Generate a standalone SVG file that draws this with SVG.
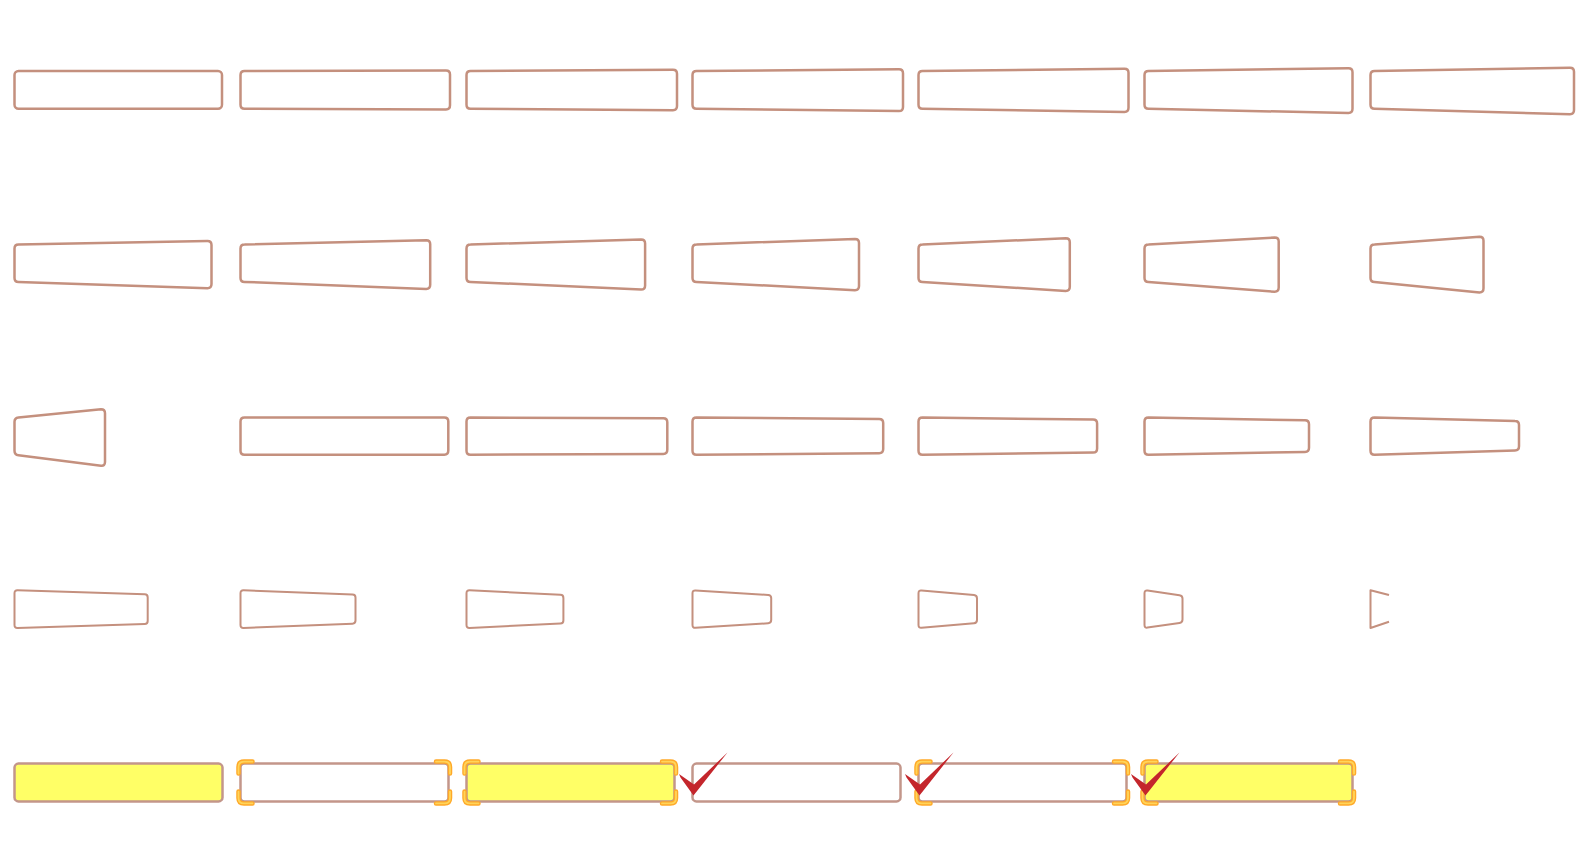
<svg xmlns="http://www.w3.org/2000/svg" xmlns:xlink="http://www.w3.org/1999/xlink" width="1582" height="865" viewBox="0 0 1582 865">
<style>
.fr{fill:#fff;stroke:#c4907e;stroke-width:2.5;stroke-linejoin:round}
#row4 .fr{stroke-width:2}
.op{fill:none;stroke:#c4907e;stroke-width:2;stroke-linejoin:round}
.b5{stroke:#c3968a;stroke-width:2.5}
.yl{fill:#ffff66}
.wh{fill:#fff}
.bo{fill:none;stroke:#ffa928;stroke-width:4.5;stroke-linecap:round}
.bi{fill:none;stroke:#ffd45a;stroke-width:1.8;stroke-linecap:round}
.ck{fill:#c4262c}
</style>
<defs>
<path id="brk" d="M-2,10 L-2,3.5 Q-2,-2 3.5,-2 L12,-2 M195.5,-2 L204,-2 Q209.5,-2 209.5,3.5 L209.5,10 M209.5,28 L209.5,34.3 Q209.5,39.8 204,39.8 L195.5,39.8 M12,39.8 L3.5,39.8 Q-2,39.8 -2,34.3 L-2,28"/>
<g id="sel"><use xlink:href="#brk" class="bo"/><use xlink:href="#brk" class="bi"/></g>
<polygon id="chk" points="-13.5,774 1.5,784.5 35,752.5 1,795.5 -12,777.5"/>
</defs>
<rect width="1582" height="865" fill="#fff"/>

<g id="row1">
<g id="r1c1"><rect class="fr" x="14.5" y="71" width="207.5" height="37.8" rx="4"/></g>
<g id="r1c2"><path class="fr" d="M244.5,71 L446,70.4 Q450,70.4 450,74.4 L450,105.2 Q450,109.4 446,109.4 L244.5,108.8 Q240.5,108.8 240.5,104.8 L240.5,75 Q240.5,71 244.5,71 Z"/></g>
<g id="r1c3"><path class="fr" d="M470.5,71 L673,69.8 Q677,69.8 677,73.8 L677,106 Q677,110.2 673,110.2 L470.5,108.8 Q466.5,108.8 466.5,104.8 L466.5,75 Q466.5,71 470.5,71 Z"/></g>
<g id="r1c4"><path class="fr" d="M696.5,71 L899,69.2 Q903,69.2 903,73.2 L903,106.9 Q903,111.1 899,111.1 L696.5,108.8 Q692.5,108.8 692.5,104.8 L692.5,75 Q692.5,71 696.5,71 Z"/></g>
<g id="r1c5"><path class="fr" d="M922.5,71 L1124.5,68.7 Q1128.5,68.7 1128.5,72.7 L1128.5,107.8 Q1128.5,112 1124.5,112 L922.5,108.8 Q918.5,108.8 918.5,104.8 L918.5,75 Q918.5,71 922.5,71 Z"/></g>
<g id="r1c6"><path class="fr" d="M1148.5,71 L1348.5,68.2 Q1352.5,68.2 1352.5,72.2 L1352.5,108.8 Q1352.5,113 1348.5,113 L1148.5,108.8 Q1144.5,108.8 1144.5,104.8 L1144.5,75 Q1144.5,71 1148.5,71 Z"/></g>
<g id="r1c7"><path class="fr" d="M1374.5,71 L1570,67.8 Q1574,67.8 1574,71.8 L1574,110 Q1574,114.2 1570,114.2 L1374.5,108.8 Q1370.5,108.8 1370.5,104.8 L1370.5,75 Q1370.5,71 1374.5,71 Z"/></g>
</g>

<g id="row2">
<g id="r2c1"><path class="fr" d="M18.5,244.5 L207.5,241 Q211.5,241 211.5,245 L211.5,284 Q211.5,288.2 207.5,288.2 L18.5,281.9 Q14.5,281.9 14.5,277.9 L14.5,248.5 Q14.5,244.5 18.5,244.5 Z"/></g>
<g id="r2c2"><path class="fr" d="M244.5,244.5 L426.2,240.3 Q430.2,240.3 430.2,244.3 L430.2,284.7 Q430.2,288.9 426.2,288.9 L244.5,281.9 Q240.5,281.9 240.5,277.9 L240.5,248.5 Q240.5,244.5 244.5,244.5 Z"/></g>
<g id="r2c3"><path class="fr" d="M470.5,244.5 L641.1,239.6 Q645.1,239.6 645.1,243.6 L645.1,285.4 Q645.1,289.6 641.1,289.6 L470.5,281.9 Q466.5,281.9 466.5,277.9 L466.5,248.5 Q466.5,244.5 470.5,244.5 Z"/></g>
<g id="r2c4"><path class="fr" d="M696.5,244.5 L855,238.9 Q859,238.9 859,242.9 L859,286.1 Q859,290.3 855,290.3 L696.5,281.9 Q692.5,281.9 692.5,277.9 L692.5,248.5 Q692.5,244.5 696.5,244.5 Z"/></g>
<g id="r2c5"><path class="fr" d="M922.5,244.5 L1065.8,238.2 Q1069.8,238.2 1069.8,242.2 L1069.8,286.8 Q1069.8,291 1065.8,291 L922.5,281.9 Q918.5,281.9 918.5,277.9 L918.5,248.5 Q918.5,244.5 922.5,244.5 Z"/></g>
<g id="r2c6"><path class="fr" d="M1148.5,244.5 L1274.7,237.5 Q1278.7,237.5 1278.7,241.5 L1278.7,287.6 Q1278.7,291.8 1274.7,291.8 L1148.5,281.9 Q1144.5,281.9 1144.5,277.9 L1144.5,248.5 Q1144.5,244.5 1148.5,244.5 Z"/></g>
<g id="r2c7"><path class="fr" d="M1374.5,244.5 L1479.5,236.7 Q1483.5,236.7 1483.5,240.7 L1483.5,288.3 Q1483.5,292.5 1479.5,292.5 L1374.5,281.9 Q1370.5,281.9 1370.5,277.9 L1370.5,248.5 Q1370.5,244.5 1374.5,244.5 Z"/></g>
</g>

<g id="row3">
<g id="r3c1"><path class="fr" d="M18.5,417.4 L101,409.3 Q105,409.3 105,413.3 L105,462 Q105,466.2 101,465.7 L18.5,455.3 Q14.5,454.8 14.5,450.8 L14.5,421.8 Q14.5,417.8 18.5,417.4 Z"/></g>
<g id="r3c2"><path class="fr" d="M244.5,417.6 L444.3,417.5 Q448.3,417.5 448.3,421.5 L448.3,450.5 Q448.3,454.7 444.3,454.7 L244.5,454.7 Q240.5,454.7 240.5,450.7 L240.5,421.6 Q240.5,417.6 244.5,417.6 Z"/></g>
<g id="r3c3"><path class="fr" d="M470.5,417.6 L663.3,418.2 Q667.3,418.2 667.3,422.2 L667.3,449.8 Q667.3,454 663.3,454 L470.5,454.7 Q466.5,454.7 466.5,450.7 L466.5,421.6 Q466.5,417.6 470.5,417.6 Z"/></g>
<g id="r3c4"><path class="fr" d="M696.5,417.6 L879.2,418.9 Q883.2,418.9 883.2,422.9 L883.2,449.1 Q883.2,453.3 879.2,453.3 L696.5,454.7 Q692.5,454.7 692.5,450.7 L692.5,421.6 Q692.5,417.6 696.5,417.6 Z"/></g>
<g id="r3c5"><path class="fr" d="M922.5,417.6 L1093.1,419.6 Q1097.1,419.6 1097.1,423.6 L1097.1,448.4 Q1097.1,452.6 1093.1,452.6 L922.5,454.7 Q918.5,454.7 918.5,450.7 L918.5,421.6 Q918.5,417.6 922.5,417.6 Z"/></g>
<g id="r3c6"><path class="fr" d="M1148.5,417.6 L1305,420.3 Q1309,420.3 1309,424.3 L1309,447.7 Q1309,451.9 1305,451.9 L1148.5,454.7 Q1144.5,454.7 1144.5,450.7 L1144.5,421.6 Q1144.5,417.6 1148.5,417.6 Z"/></g>
<g id="r3c7"><path class="fr" d="M1374.5,417.6 L1515,421 Q1519,421 1519,425 L1519,446.3 Q1519,450.5 1515,450.5 L1374.5,454.7 Q1370.5,454.7 1370.5,450.7 L1370.5,421.6 Q1370.5,417.6 1374.5,417.6 Z"/></g>
</g>

<g id="row4">
<g id="r4c1"><path class="fr" d="M17.5,590.3 L144.7,594.3 Q147.7,594.4 147.7,597.4 L147.7,620.9 Q147.7,623.9 144.7,624 L17.5,627.9 Q14.5,628 14.5,625 L14.5,593.2 Q14.5,590.2 17.5,590.3 Z"/></g>
<g id="r4c2"><path class="fr" d="M243.5,590.3 L352.5,594.5 Q355.5,594.6 355.5,597.6 L355.5,620.6 Q355.5,623.6 352.5,623.7 L243.5,627.9 Q240.5,628 240.5,625 L240.5,593.2 Q240.5,590.2 243.5,590.3 Z"/></g>
<g id="r4c3"><path class="fr" d="M469.5,590.3 L560.4,594.8 Q563.4,594.9 563.4,597.9 L563.4,620.4 Q563.4,623.4 560.4,623.5 L469.5,627.9 Q466.5,628 466.5,625 L466.5,593.2 Q466.5,590.2 469.5,590.3 Z"/></g>
<g id="r4c4"><path class="fr" d="M695.5,590.4 L768.2,594.9 Q771.2,595.1 771.2,598.1 L771.2,620.1 Q771.2,623.1 768.2,623.3 L695.5,627.8 Q692.5,628 692.5,625 L692.5,593.2 Q692.5,590.2 695.5,590.4 Z"/></g>
<g id="r4c5"><path class="fr" d="M921.5,590.5 L974,595.1 Q977,595.4 977,598.4 L977,619.9 Q977,622.9 974,623.2 L921.5,627.7 Q918.5,628 918.5,625 L918.5,593.2 Q918.5,590.2 921.5,590.5 Z"/></g>
<g id="r4c6"><path class="fr" d="M1147.5,590.6 L1179.5,595.2 Q1182.5,595.6 1182.5,598.6 L1182.5,619.6 Q1182.5,622.6 1179.5,623 L1147.5,627.6 Q1144.5,628 1144.5,625 L1144.5,593.2 Q1144.5,590.2 1147.5,590.6 Z"/></g>
<g id="r4c7"><path class="op" d="M1389,595 L1370.5,590.2 L1370.5,628 L1389,621.8"/></g>
</g>

<g id="row5">
<g id="r5c1"><rect class="yl b5" x="14.5" y="763.6" width="208" height="37.8" rx="4"/></g>
<g id="r5c2"><rect class="wh b5" x="240.5" y="763.6" width="208" height="37.8" rx="4"/><use xlink:href="#sel" transform="translate(240.5,763.6)"/></g>
<g id="r5c3"><rect class="yl b5" x="466.5" y="763.6" width="208" height="37.8" rx="4"/><use xlink:href="#sel" transform="translate(466.5,763.6)"/></g>
<g id="r5c4"><rect class="wh b5" x="692.5" y="763.6" width="208" height="37.8" rx="4"/><use xlink:href="#chk" class="ck" transform="translate(692.5,0)"/></g>
<g id="r5c5"><rect class="wh b5" x="918.5" y="763.6" width="208" height="37.8" rx="4"/><use xlink:href="#sel" transform="translate(918.5,763.6)"/><use xlink:href="#chk" class="ck" transform="translate(918.5,0)"/></g>
<g id="r5c6"><rect class="yl b5" x="1144.5" y="763.6" width="208" height="37.8" rx="4"/><use xlink:href="#sel" transform="translate(1144.5,763.6)"/><use xlink:href="#chk" class="ck" transform="translate(1144.5,0)"/></g>
</g>
</svg>
